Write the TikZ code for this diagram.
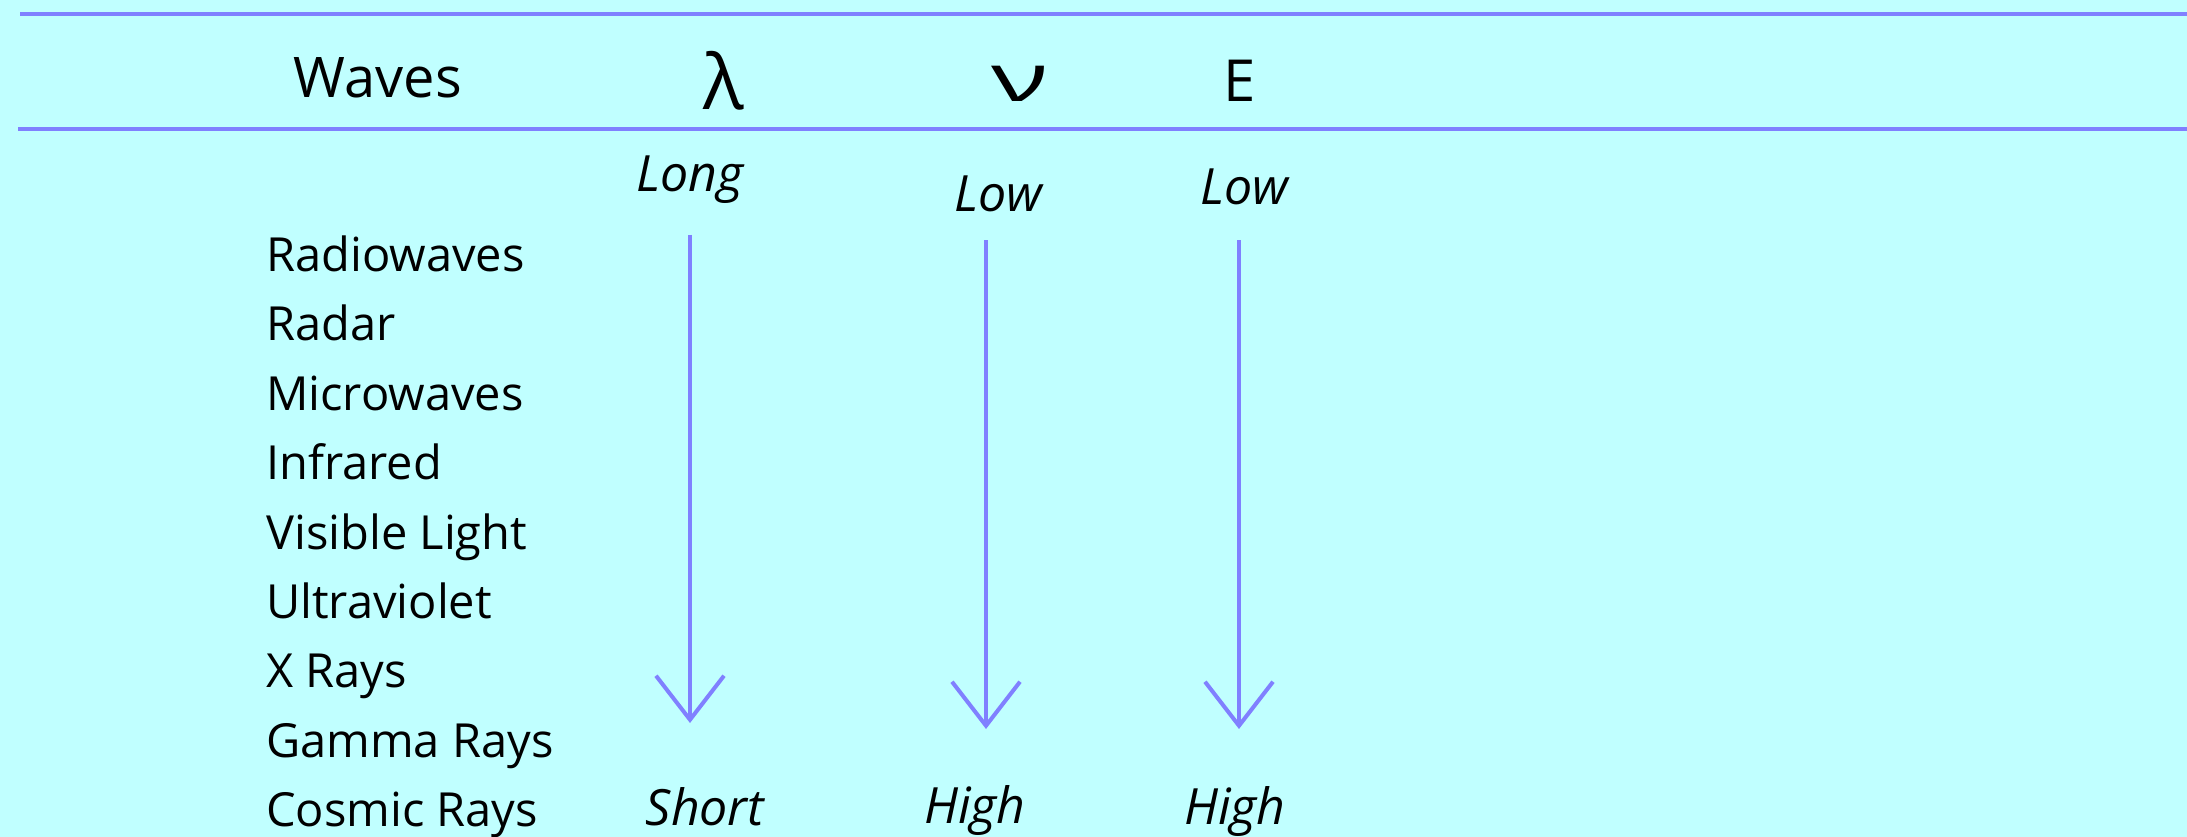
\documentclass[tikz,border=0pt]{standalone}
\usepackage{fontspec}
\setmainfont{Open Sans}
\usetikzlibrary{arrows.meta}
\definecolor{bg}{HTML}{C0FFFF}
\definecolor{ln}{HTML}{8080FF}
\begin{document}
\begin{tikzpicture}[x=1pt,y=-1pt,
  rule/.style={draw=ln,line width=4.5pt},
  wave/.style={anchor=base west,font=\fontsize{47}{47}\selectfont,inner sep=0pt},
  head/.style={font=\fontsize{56}{56}\selectfont,inner sep=0pt},
  lab/.style={anchor=base,font=\itshape\fontsize{50}{50}\selectfont,inner sep=0pt},
  arr/.style={draw=ln,line width=4pt,-{Straight Barb[length=44pt,width=68pt,line width=4pt]}}
]
\fill[bg] (0,0) rectangle (2187,837);
\useasboundingbox (0,0) rectangle (2187,837);
\coordinate (t0) at (20,14);
\coordinate (t1) at (2187,14);
\coordinate (b0) at (18,129);
\coordinate (b1) at (2187,129);
\draw[rule] (t0) -- (t1);
\draw[rule] (b0) -- (b1);
\node[head,anchor=base] (waves) at (378,98) {Waves};
\node[head,font=\fontsize{76}{76}\selectfont] (lam) at (724,81) {λ};
\node[head,font=\fontsize{66}{66}\selectfont\addfontfeatures{FakeStretch=1.6}] (nu) at (1020,84) {ν};
\node[head,font=\fontsize{58}{58}\selectfont] (en) at (1240,81) {E};
\node[lab] (long) at (690,192) {Long};
\node[lab] (low1) at (998,212) {Low};
\node[lab] (low2) at (1244,205) {Low};
\node[lab] (short) at (705,825) {Short};
\node[lab] (high1) at (975,823) {High};
\node[lab] (high2) at (1235,824) {High};
\node[wave] (w1) at (266,271) {Radiowaves};
\node[wave] (w2) at (266,340) {Radar};
\node[wave] (w3) at (266,410) {Microwaves};
\node[wave] (w4) at (266,479) {Infrared};
\node[wave] (w5) at (266,549) {Visible Light};
\node[wave] (w6) at (266,618) {Ultraviolet};
\node[wave] (w7) at (266,687) {X Rays};
\node[wave] (w8) at (266,757) {Gamma Rays};
\node[wave] (w9) at (266,826) {Cosmic Rays};
\coordinate (a1s) at (690,235);
\coordinate (a1e) at (690,723);
\coordinate (a2s) at (986,240);
\coordinate (a2e) at (986,729);
\coordinate (a3s) at (1239,240);
\coordinate (a3e) at (1239,729);
\draw[arr] (a1s) -- (a1e);
\draw[arr] (a2s) -- (a2e);
\draw[arr] (a3s) -- (a3e);
\end{tikzpicture}
\end{document}
